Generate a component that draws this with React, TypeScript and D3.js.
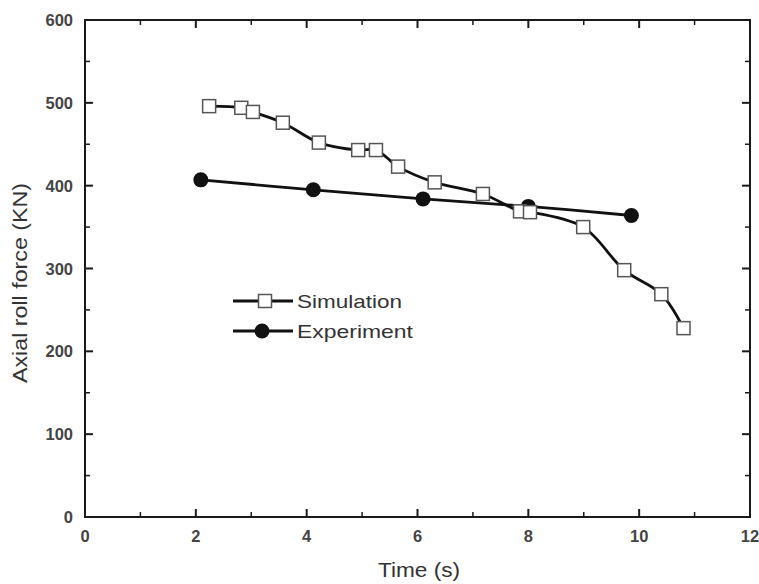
import React from "react";
import * as d3 from "d3";

const simTime = [2.24, 2.82, 3.03, 3.57, 4.22, 4.93, 5.25, 5.65, 6.31, 7.18, 7.85, 8.03, 8.99, 9.73, 10.4, 10.8];
const simForce = [496, 494, 489, 476, 452, 443, 443, 423, 404, 390, 369, 368, 350, 298, 269, 228];
const expTime = [2.09, 4.12, 6.1, 8.0, 9.86];
const expForce = [407, 395, 384, 375, 364];
const xTicks = [0, 2, 4, 6, 8, 10, 12];
const xMinor = [1, 3, 5, 7, 9, 11];
const yTicks = [0, 100, 200, 300, 400, 500, 600];
const yMinor = [50, 150, 250, 350, 450, 550];
const legendLabels = ["Simulation", "Experiment"];

export default function App() {
  const W = 759, H = 584;
  const x = d3.scaleLinear().domain([0, 12]).range([85, 750]);
  const y = d3.scaleLinear().domain([0, 600]).range([517, 20]);
  const simPts: [number, number][] = simTime.map((t, i) => [x(t), y(simForce[i])]);
  const expPts: [number, number][] = expTime.map((t, i) => [x(t), y(expForce[i])]);
  const simLine = d3.line().curve(d3.curveCatmullRom.alpha(0.5))(simPts) || "";
  const expLine = d3.line().curve(d3.curveCatmullRom.alpha(0.5))(expPts) || "";
  const axisColor = "#1a1a1a";
  const textColor = "#333";
  const tickColor = "#444";
  const font = "'Liberation Sans', Arial, sans-serif";
  const sq = 13;
  return (
    <svg width={W} height={H} style={{ position: "absolute", left: 0, top: 0, background: "#fff" }}>
      <rect x={0} y={0} width={W} height={H} fill="#fff" />
      {/* frame */}
      <rect x={x(0)} y={y(600)} width={x(12) - x(0)} height={y(0) - y(600)} fill="none" stroke={axisColor} strokeWidth={2} />
      {/* x ticks */}
      {xTicks.map((t) => (
        <g key={"xt" + t}>
          <line x1={x(t)} x2={x(t)} y1={y(0)} y2={y(0) - 8} stroke={axisColor} strokeWidth={2} />
          <line x1={x(t)} x2={x(t)} y1={y(600)} y2={y(600) + 8} stroke={axisColor} strokeWidth={2} />
          <text x={x(t)} y={542} textAnchor="middle" fontFamily={font} fontSize={16.5} fontWeight="bold" fill={tickColor}>{t}</text>
        </g>
      ))}
      {xMinor.map((t) => (
        <g key={"xm" + t}>
          <line x1={x(t)} x2={x(t)} y1={y(0)} y2={y(0) - 5} stroke={axisColor} strokeWidth={1.5} />
          <line x1={x(t)} x2={x(t)} y1={y(600)} y2={y(600) + 5} stroke={axisColor} strokeWidth={1.5} />
        </g>
      ))}
      {yTicks.map((v) => (
        <g key={"yt" + v}>
          <line x1={x(0)} x2={x(0) + 8} y1={y(v)} y2={y(v)} stroke={axisColor} strokeWidth={2} />
          <line x1={x(12)} x2={x(12) - 8} y1={y(v)} y2={y(v)} stroke={axisColor} strokeWidth={2} />
          <text x={73} y={y(v) + 6} textAnchor="end" fontFamily={font} fontSize={16.5} fontWeight="bold" fill={tickColor}>{v}</text>
        </g>
      ))}
      {yMinor.map((v) => (
        <g key={"ym" + v}>
          <line x1={x(0)} x2={x(0) + 5} y1={y(v)} y2={y(v)} stroke={axisColor} strokeWidth={1.5} />
          <line x1={x(12)} x2={x(12) - 5} y1={y(v)} y2={y(v)} stroke={axisColor} strokeWidth={1.5} />
        </g>
      ))}
      {/* axis titles */}
      <text x={419} y={577} textAnchor="middle" fontFamily={font} fontSize={20} fill={textColor} textLength={82} lengthAdjust="spacingAndGlyphs">Time (s)</text>
      <text transform="translate(27,283) rotate(-90)" textAnchor="middle" fontFamily={font} fontSize={20} fill={textColor} textLength={200} lengthAdjust="spacingAndGlyphs">Axial roll force (KN)</text>
      {/* series */}
      <path d={simLine} fill="none" stroke="#111" strokeWidth={2.8} />
      <path d={expLine} fill="none" stroke="#111" strokeWidth={2.8} />
      {expPts.map(([px, py], i) => (
        <circle key={"e" + i} cx={px} cy={py} r={7.5} fill="#111" />
      ))}
      {simPts.map(([px, py], i) => (
        <rect key={"s" + i} x={px - sq / 2} y={py - sq / 2} width={sq} height={sq} fill="#fff" stroke="#555" strokeWidth={1.5} />
      ))}
      {/* legend */}
      <g>
        <line x1={233} x2={293} y1={301} y2={301} stroke="#111" strokeWidth={2.8} />
        <rect x={265 - sq / 2} y={301 - sq / 2} width={sq} height={sq} fill="#fff" stroke="#555" strokeWidth={1.5} />
        <text x={297} y={308} fontFamily={font} fontSize={19} fill={textColor} textLength={105} lengthAdjust="spacingAndGlyphs">{legendLabels[0]}</text>
        <line x1={233} x2={293} y1={331} y2={331} stroke="#111" strokeWidth={2.8} />
        <circle cx={262} cy={331} r={7.5} fill="#111" />
        <text x={297} y={338} fontFamily={font} fontSize={19} fill={textColor} textLength={116} lengthAdjust="spacingAndGlyphs">{legendLabels[1]}</text>
      </g>
    </svg>
  );
}
